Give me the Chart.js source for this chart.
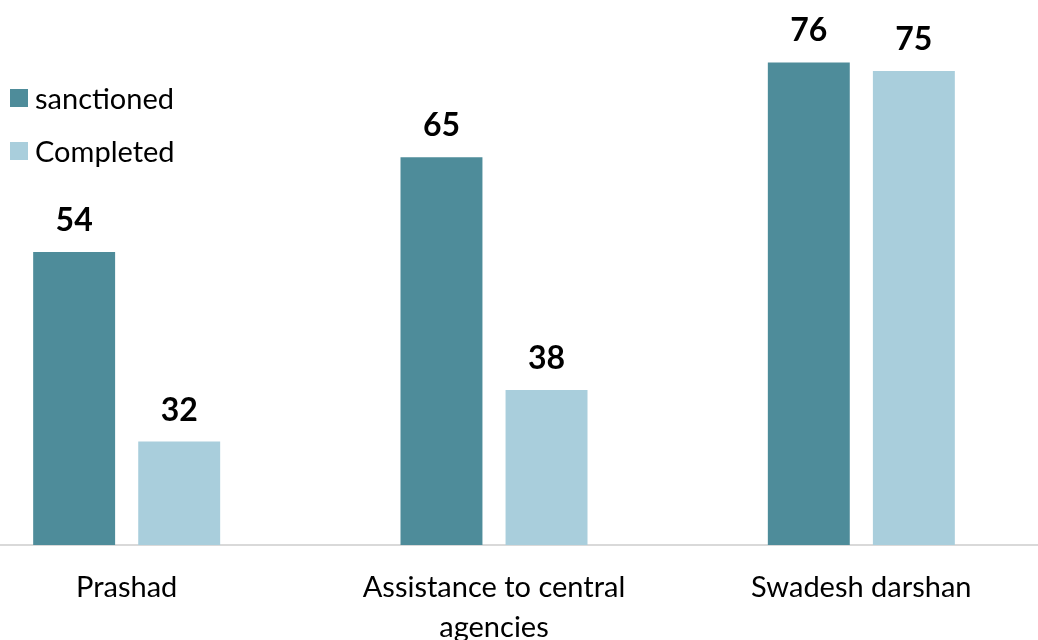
<!DOCTYPE html>
<html>
<head>
<meta charset="utf-8">
<script src="https://cdn.jsdelivr.net/npm/chart.js@4/dist/chart.umd.min.js"></script>
<style>
  html, body { margin: 0; padding: 0; background: #fff; overflow: hidden; }
  body { width: 1038px; height: 640px; position: relative; font-family: Lato, sans-serif; }
  #wrap { position: absolute; left: -57px; top: 0; width: 1102px; height: 640px; }
  #legend { position: absolute; left: 10px; top: 71px; font-size: 29px; color: #000; }
  #legend div { display: flex; align-items: center; height: 53px; }
  #legend span.box { width: 18px; height: 18px; margin-right: 7px; display: inline-block; }
</style>
</head>
<body>
<div id="wrap"><canvas id="chart"></canvas></div>
<div id="legend"></div>
<script>
const categories = ['Prashad', ['Assistance to central', 'agencies'], 'Swadesh darshan'];
const seriesNames = ['sanctioned', 'Completed'];
const sanctioned = [54, 65, 76];
const completed = [32, 38, 75];
const colors = ['#4E8C9A', '#A9CEDC'];

// value labels above each bar
const barLabels = {
  id: 'barLabels',
  afterDatasetsDraw(chart) {
    const ctx = chart.ctx;
    ctx.save();
    ctx.font = 'bold 32px Lato, sans-serif';
    ctx.fillStyle = '#000';
    ctx.textAlign = 'center';
    ctx.textBaseline = 'alphabetic';
    chart.data.datasets.forEach((ds, i) => {
      chart.getDatasetMeta(i).data.forEach((bar, j) => {
        ctx.fillText(String(ds.data[j]), bar.x, bar.y - 21);
      });
    });
    ctx.restore();
  }
};

const chart = new Chart(document.getElementById('chart'), {
  type: 'bar',
  data: {
    labels: categories,
    datasets: [
      { label: seriesNames[0], data: sanctioned, backgroundColor: colors[0] },
      { label: seriesNames[1], data: completed, backgroundColor: colors[1] },
    ],
  },
  options: {
    responsive: true,
    maintainAspectRatio: false,
    animation: false,
    layout: { padding: { top: 28, left: 0, right: 0, bottom: 0 } },
    datasets: {
      bar: { categoryPercentage: 0.572, barPercentage: 0.78 },
    },
    plugins: {
      legend: { display: false },
      tooltip: { enabled: false },
    },
    scales: {
      x: {
        grid: { display: false },
        border: { display: true, color: '#D9D9D9', width: 2 },
        ticks: {
          color: '#000',
          font: { family: 'Lato, sans-serif', size: 29, lineHeight: 1.4 },
          padding: 14,
          maxRotation: 0,
          autoSkip: false,
        },
        afterFit(scale) { scale.height = 95; },
      },
      y: { display: false, min: 20, max: 80 },
    },
  },
  plugins: [barLabels],
});

const legend = document.getElementById('legend');
chart.data.datasets.forEach((ds) => {
  const row = document.createElement('div');
  const box = document.createElement('span');
  box.className = 'box';
  box.style.background = ds.backgroundColor;
  row.appendChild(box);
  row.appendChild(document.createTextNode(ds.label));
  legend.appendChild(row);
});
</script>
</body>
</html>
